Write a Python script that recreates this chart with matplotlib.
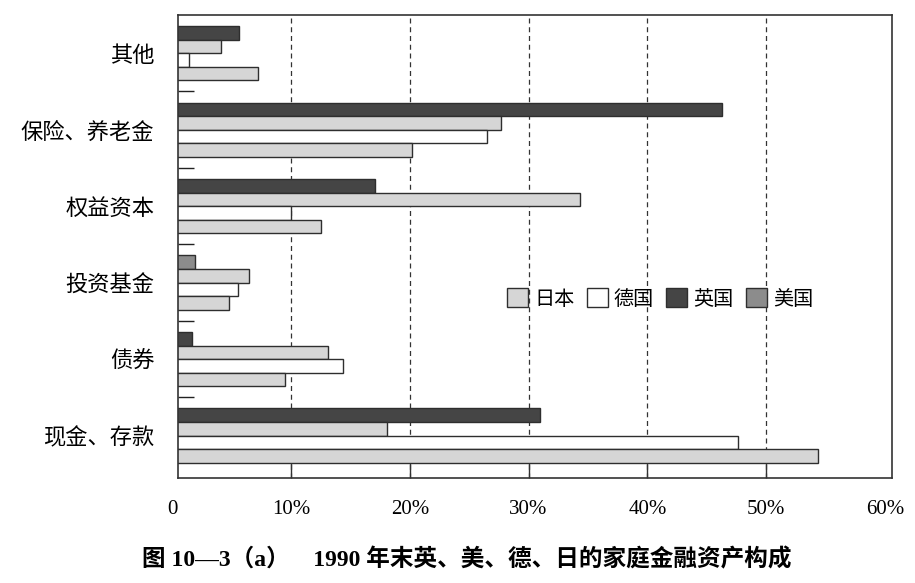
import numpy as np
import matplotlib.pyplot as plt
from matplotlib.patches import Patch

plt.rcParams['font.family'] = ['Liberation Serif', 'Noto Sans CJK SC', 'DejaVu Sans']

# 类别（自下而上）
categories = ['现金、存款', '债券', '投资基金', '权益资本', '保险、养老金', '其他']

# 每组四根条，自上而下
uk = [31.0, 1.7, 1.9, 17.05, 46.3, 5.6]         # 最上面一根（深色）
us = [18.1, 13.1, 6.5, 34.3, 27.7, 4.1]         # 第二根（浅灰）
germany = [47.6, 14.4, 5.5, 10.0, 26.5, 1.4]    # 第三根（白）
japan = [54.4, 9.5, 4.8, 12.5, 20.2, 7.25]      # 最下面一根（浅灰）

x_ticks = [10, 20, 30, 40, 50, 60]
x_tick_labels = ['10%', '20%', '30%', '40%', '50%', '60%']
legend_labels = ['日本', '德国', '英国', '美国']

DARK = '#454545'
MID = '#8c8c8c'
LIGHT = '#d6d6d6'
EDGE = '#2e2e2e'

fig = plt.figure(figsize=(9.15, 5.83), dpi=100)
ax = fig.add_axes([178 / 915, 1 - 478 / 583, (892 - 178) / 915, (478 - 15) / 583])

y = np.arange(len(categories))
h = 0.178

# 投资基金那一组最上面一根是中灰
top_colors = [DARK, DARK, MID, DARK, DARK, DARK]

ax.barh(y + 1.5 * h, uk, height=h, color=top_colors, edgecolor=EDGE, linewidth=1.0)
ax.barh(y + 0.5 * h, us, height=h, color=LIGHT, edgecolor=EDGE, linewidth=1.0)
ax.barh(y - 0.5 * h, germany, height=h, color='white', edgecolor=EDGE, linewidth=1.0)
ax.barh(y - 1.5 * h, japan, height=h, color=LIGHT, edgecolor=EDGE, linewidth=1.0)

ax.set_xlim(0.48, 60.6)
ax.set_ylim(-0.553, 5.5)

# 虚线网格
ax.set_axisbelow(True)
for xv in x_ticks[:-1]:
    ax.axvline(xv, color='#333333', linestyle=(0, (4, 3)), linewidth=0.9, zorder=0)

ax.set_xticks(x_ticks)
ax.set_xticklabels(x_tick_labels, fontsize=15)
ax.tick_params(axis='x', direction='in', length=11, width=1.0, color='#333333', pad=16)
# 60% 处不画刻度线
ax.xaxis.get_major_ticks()[-1].tick1line.set_visible(False)
# 原点 0 在坐标区左边之外，单独写
ax.annotate('0', xy=(0, 0), xycoords=('data', 'axes fraction'), xytext=(0, -16),
            textcoords='offset points', ha='center', va='top', fontsize=15)

ax.set_yticks(y)
ax.set_yticklabels(categories, fontsize=16, family=['Noto Sans CJK SC'])
ax.set_yticks(np.arange(0.5, 5, 1), minor=True)
ax.tick_params(axis='y', which='major', length=0, pad=17)
ax.tick_params(axis='y', which='minor', direction='in', length=11.5, width=1.0, color='#222222')

for s in ax.spines.values():
    s.set_color('#333333')
    s.set_linewidth(1.2)

handles = [Patch(facecolor=LIGHT, edgecolor=EDGE),
           Patch(facecolor='white', edgecolor=EDGE),
           Patch(facecolor=DARK, edgecolor=EDGE),
           Patch(facecolor=MID, edgecolor=EDGE)]
fig.legend(handles, legend_labels, loc='center left', bbox_to_anchor=(507 / 915, 1 - 299 / 583),
           ncol=4, frameon=False, prop={'family': 'Noto Sans CJK SC', 'size': 14.5},
           handlelength=1.05, handleheight=1.05, handletextpad=0.3, columnspacing=0.6,
           borderpad=0, borderaxespad=0)

fig.text(467 / 915, 1 - 560 / 583, '图 10—3（a）    1990 年末英、美、德、日的家庭金融资产构成',
         ha='center', va='center', fontsize=17, fontweight='bold')

plt.savefig('out.png', dpi=100)
